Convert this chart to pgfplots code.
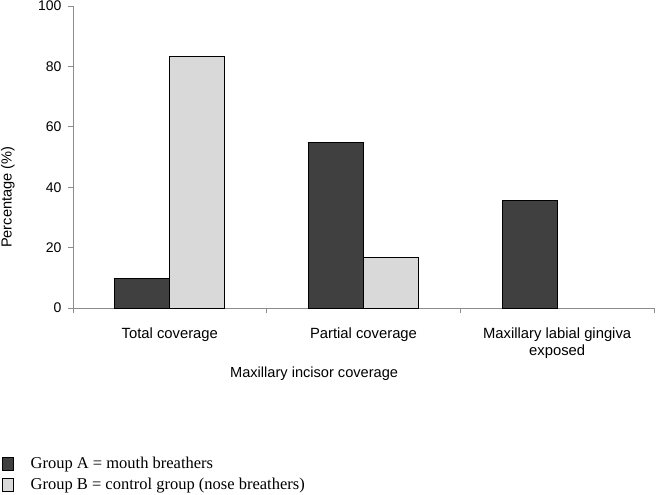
\documentclass[border=0pt]{standalone}
\usepackage{fontspec}
\setmainfont{Liberation Sans}
\newfontfamily\timesfont{Liberation Serif}
\usepackage{pgfplots}
\pgfplotsset{compat=1.18}

\definecolor{groupA}{HTML}{404040}
\definecolor{groupB}{HTML}{D9D9D9}
\definecolor{axisgray}{HTML}{8C8C8C}

\pgfplotsset{sqlegend/.style={legend image code/.code={\draw[##1] (0bp,-6.5bp) rectangle (11bp,6.5bp);}}}

\begin{document}
\begin{tikzpicture}
\begin{axis}[
    scale only axis,
    width=581bp, height=302bp,
    ybar=0pt, bar width=0.284,
    xmin=-0.5, xmax=2.5, ymin=0, ymax=100,
    ytick={0,20,...,100},
    xtick={0,1,2},
    xticklabels={Total coverage, Partial coverage, {Maxillary labial gingiva\\exposed}},
    minor xtick={-0.5,0.5,1.5,2.5},
    major x tick style={draw=none},
    minor x tick style={axisgray, line width=0.8bp},
    ytick style={axisgray, line width=0.8bp},
    major tick length=5bp, minor tick length=5bp,
    tick align=outside,
    axis lines*=left,
    axis line style={axisgray, line width=0.8bp},
    /pgf/number format/assume math mode=true,
    tick label style={font=\fontsize{14bp}{17bp}\selectfont},
    xticklabel style={align=center, yshift=-11bp, font=\fontsize{14.8bp}{17.5bp}\selectfont},
    yticklabel style={xshift=-3bp},
    label style={font=\fontsize{14.6bp}{17bp}\selectfont},
    xlabel={Maxillary incisor coverage},
    xlabel style={at={(axis description cs:0.415,-0.219)}, anchor=center},
    ylabel={Percentage (\%)},
    ylabel style={at={(axis description cs:-0.112,0.367)}, anchor=center},
    legend style={at={(axis description cs:-0.128,-0.48)}, anchor=north west,
        draw=none, fill=none, font=\timesfont\fontsize{16.5bp}{20bp}\selectfont,
        nodes={inner sep=1bp, text height=12bp, text depth=4bp},
        row sep=3bp,
        /tikz/every odd column/.append style={column sep=16bp}},
    legend cell align=left,
]
\addplot[fill=groupA, draw=black, line width=0.8bp, sqlegend]
    coordinates {(0,9.7) (1,54.8) (2,35.5)};
\addplot[fill=groupB, draw=black, line width=0.8bp, sqlegend]
    coordinates {(0,83.3) (1,16.7)};
\legend{Group A = mouth breathers, Group B = control group (nose breathers)}
\end{axis}
\pgfresetboundingbox
\path (current axis.south west) ++(-73bp,-187bp) rectangle ++(656bp,495bp);
\end{tikzpicture}
\end{document}
